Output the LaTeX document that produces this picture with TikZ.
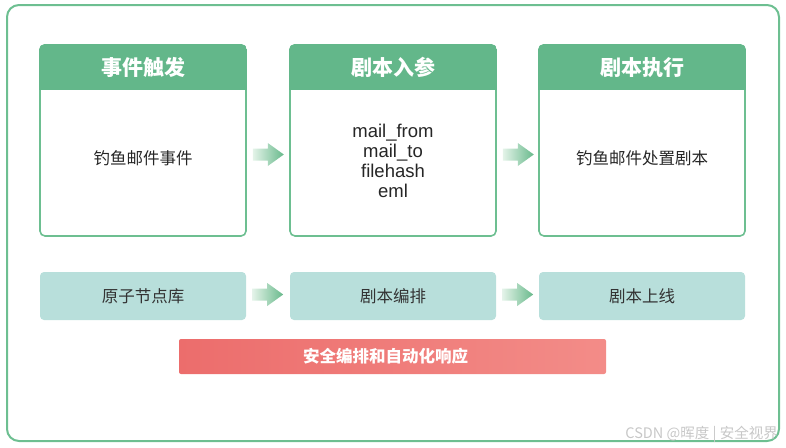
\documentclass[tikz,border=0pt]{standalone}
\usepackage{fontspec}
\setmainfont{Liberation Sans}
\newfontfamily\cjk{Noto Sans CJK SC}
\usetikzlibrary{positioning}

\definecolor{framegreen}{HTML}{6DBF91}
\definecolor{headgreen}{HTML}{63B78A}
\definecolor{stepteal}{HTML}{B8DFDB}
\definecolor{redleft}{HTML}{EC6D6C}
\definecolor{redright}{HTML}{F38C88}
\definecolor{arrowpale}{HTML}{E4F3E9}
\definecolor{arrowgreen}{HTML}{68B98B}

% green header band of a card
\newcommand{\cardhead}[2]{%
  \begin{scope}
    \clip[rounded corners=5pt] (#1.north west) rectangle (#1.south east);
    \fill[headgreen] (#1.north west) rectangle ([yshift=-46pt]#1.north east);
  \end{scope}
  \node[headtext] at ([yshift=-23pt]#1.north) {#2};}

% shaded block arrow, starting at the given point
\newcommand{\flowarrow}[1]{%
  \shade[left color=arrowpale,right color=arrowgreen,shift={#1}]
    (6,-6) -- (21,-6) -- (21,-11.5) -- (37,0) -- (21,11.5) -- (21,6) -- (6,6) -- cycle;}

\begin{document}
\begin{tikzpicture}[x=1pt,y=-1pt,
card/.style={draw=framegreen,line width=1.6pt,rounded corners=5pt,minimum width=206pt,minimum height=191pt,inner sep=0pt},
headtext/.style={text=white,font=\cjk\bfseries\fontsize{21}{24}\selectfont},
bodytext/.style={text=black!85,align=center,font=\cjk\fontsize{16.5}{20}\selectfont},
stepbox/.style={fill=stepteal,rounded corners=4pt,minimum width=206pt,minimum height=48pt,inner sep=0pt,text=black!80,font=\cjk\fontsize{16.5}{20}\selectfont},
bar/.style={left color=redleft,right color=redright,rounded corners=2pt,minimum width=427pt,minimum height=35pt,inner sep=0pt}]

\useasboundingbox (0,0) rectangle (786,447);
\draw[framegreen,line width=2pt,rounded corners=12pt] (7,5) rectangle (779,441);

\draw (143,140.5) node[card] (trig) {};
\draw (393,140.5) node[card] (param) {};
\draw (642,140.5) node[card] (exec) {};
\cardhead{trig}{事件触发}
\cardhead{param}{剧本入参}
\cardhead{exec}{剧本执行}

\node[bodytext] (trigtext) at ([yshift=-17.5pt]trig.center) {钓鱼邮件事件};
\node[bodytext,font=\fontsize{18.5}{20}\selectfont] (paramtext) at ([yshift=-20.5pt]param.center) {mail\_from\\mail\_to\\filehash\\eml};
\node[bodytext] (exectext) at ([yshift=-17.5pt]exec.center) {钓鱼邮件处置剧本};

\draw (143,296) node[stepbox] (atoms) {原子节点库};
\draw (393,296) node[stepbox] (compose) {剧本编排};
\draw (642,296) node[stepbox] (online) {剧本上线};
\draw (392.5,356.5) node[bar] (soar) {};
\node[text=white,font=\cjk\bfseries\fontsize{16.5}{20}\selectfont] (soartext) at ([xshift=-7pt]soar.center) {安全编排和自动化响应};

\flowarrow{([yshift=-14pt]trig.east)}
\flowarrow{([yshift=-14pt]param.east)}
\flowarrow{([yshift=1.5pt]atoms.east)}
\flowarrow{([yshift=1.5pt]compose.east)}

\node[anchor=east,inner sep=0pt,text=black!22,font=\cjk\fontsize{14.5}{16}\selectfont] (mark) at (778,434) {CSDN @晖度 | 安全视界};
\end{tikzpicture}
\end{document}
